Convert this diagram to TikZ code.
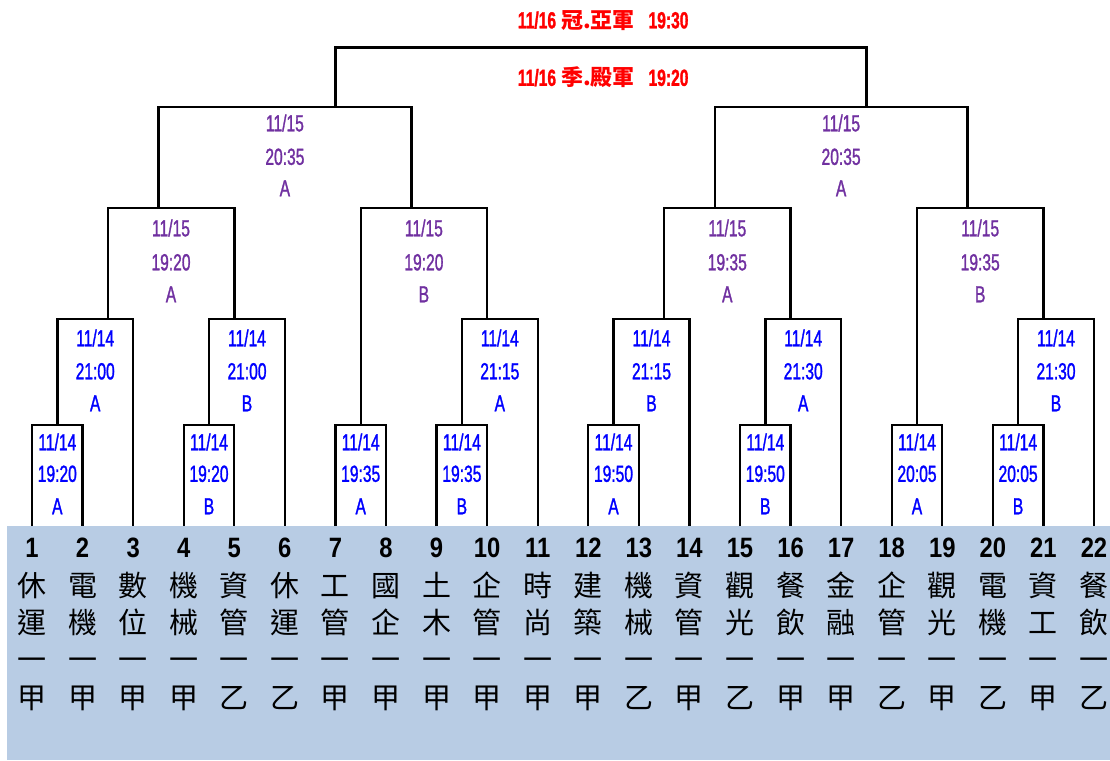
\documentclass[tikz,border=0pt]{standalone}
\usepackage{fontspec}
\setmainfont{Liberation Sans}
\newfontfamily\nar[FakeStretch=0.67,FakeBold=1.2]{Liberation Sans}
\newfontfamily\numf[FakeStretch=0.85]{Liberation Sans}
\newfontfamily\cjk{Noto Sans CJK TC}
\definecolor{bgblue}{RGB}{184,204,228}
\definecolor{pur}{RGB}{112,48,160}
\definecolor{redt}{RGB}{255,0,0}
\begin{document}
\begin{tikzpicture}[x=1pt,y=-1pt,
  bk/.style={line width=2.4pt, line join=miter},
  lab/.style={inner sep=0pt, font=\nar\fontsize{23.3}{24}\selectfont, text height=16.7pt, text depth=0pt, anchor=center},
  redlab/.style={lab, font=\nar\bfseries\fontsize{23.3}{24}\selectfont, text=redt},
  redcj/.style={inner sep=0pt, font=\cjk\bfseries\fontsize{22}{22}\selectfont, text height=19.4pt, text depth=2.6pt, text=redt},
  num/.style={inner sep=0pt, font=\numf\bfseries\fontsize{28}{28}\selectfont, text height=20pt, text depth=0pt},
  cj/.style={inner sep=0pt, font=\cjk\fontsize{29}{30}\selectfont, text height=25.5pt, text depth=3.5pt}]
\useasboundingbox (0,0) rectangle (1110,760);
\fill[bgblue] (7,526) rectangle (1110,760);

% teams
\foreach \i/\a/\b/\c in {1/休/運/甲,2/電/機/甲,3/數/位/甲,4/機/械/甲,5/資/管/乙,6/休/運/乙,7/工/管/甲,8/國/企/甲,9/土/木/甲,10/企/管/甲,11/時/尚/甲,12/建/築/甲,13/機/械/乙,14/資/管/甲,15/觀/光/乙,16/餐/飲/甲,17/金/融/甲,18/企/管/乙,19/觀/光/甲,20/電/機/乙,21/資/工/甲,22/餐/飲/乙}{
  \pgfmathsetmacro\xx{32+(\i-1)*50.57}
  \coordinate (t\i) at (\xx,526);
  \node[num] (num\i) at (\xx,547) {\i};
  \node[cj] (ca\i) at (\xx,585) {\a};
  \node[cj] (cb\i) at (\xx,622) {\b};
  \node[cj] (cd\i) at (\xx,659) {一};
  \node[cj] (cc\i) at (\xx,697) {\c};
}

% join coordinates
\coordinate (m1) at (57.3,425);  \coordinate (m2) at (209,425);
\coordinate (m3) at (360.7,425); \coordinate (m4) at (461.9,425);
\coordinate (m5) at (613.5,425); \coordinate (m6) at (765.3,425);
\coordinate (m7) at (917,425);   \coordinate (m8) at (1018.1,425);
\coordinate (n1) at (107.8,319); \coordinate (n2) at (234.3,319);
\coordinate (n3) at (487.1,319); \coordinate (n4) at (664.1,319);
\coordinate (n5) at (790.6,319); \coordinate (n6) at (1043.4,319);
\coordinate (p1) at (158.4,207.7); \coordinate (p2) at (411.3,207.7);
\coordinate (p3) at (714.7,207.7); \coordinate (p4) at (967.5,207.7);
\coordinate (q1) at (335.4,106.7); \coordinate (q2) at (866.4,106.7);
\coordinate (f) at (600.9,47.7);

% bracket lines
\draw[bk] (t1) |- (m1) -| (t2);
\draw[bk] (t4) |- (m2) -| (t5);
\draw[bk] (t7) |- (m3) -| (t8);
\draw[bk] (t9) |- (m4) -| (t10);
\draw[bk] (t12) |- (m5) -| (t13);
\draw[bk] (t15) |- (m6) -| (t16);
\draw[bk] (t18) |- (m7) -| (t19);
\draw[bk] (t20) |- (m8) -| (t21);
\draw[bk] (m1) |- (n1) -| (t3);
\draw[bk] (m2) |- (n2) -| (t6);
\draw[bk] (m4) |- (n3) -| (t11);
\draw[bk] (m5) |- (n4) -| (t14);
\draw[bk] (m6) |- (n5) -| (t17);
\draw[bk] (m8) |- (n6) -| (t22);
\draw[bk] (n1) |- (p1) -| (n2);
\draw[bk] (m3) |- (p2) -| (n3);
\draw[bk] (n4) |- (p3) -| (n5);
\draw[bk] (m7) |- (p4) -| (n6);
\draw[bk] (p1) |- (q1) -| (p2);
\draw[bk] (p3) |- (q2) -| (p4);
\draw[bk] (q1) |- (f) -| (q2);

% round 1 labels
\foreach \nm/\xx/\tm/\g in {m1/57.3/19:20/A,m2/209/19:20/B,m3/360.7/19:35/A,m4/461.9/19:35/B,m5/613.5/19:50/A,m6/765.3/19:50/B,m7/917/20:05/A,m8/1018.1/20:05/B}{
  \node[lab,text=blue] (\nm-d) at (\xx,442) {11/14};
  \node[lab,text=blue] (\nm-t) at (\xx,473.5) {\tm};
  \node[lab,text=blue] (\nm-g) at (\xx,506) {\g};
}
% round 2 labels
\foreach \nm/\xx/\tm/\g in {n1/95.2/21:00/A,n2/247/21:00/B,n3/499.8/21:15/A,n4/651.5/21:15/B,n5/803.2/21:30/A,n6/1056/21:30/B}{
  \node[lab,text=blue] (\nm-d) at (\xx,338) {11/14};
  \node[lab,text=blue] (\nm-t) at (\xx,371) {\tm};
  \node[lab,text=blue] (\nm-g) at (\xx,403) {\g};
}
% round 3 labels
\foreach \nm/\xx/\tm/\g in {p1/171/19:20/A,p2/423.9/19:20/B,p3/727.3/19:35/A,p4/980.2/19:35/B}{
  \node[lab,text=pur] (\nm-d) at (\xx,228) {11/15};
  \node[lab,text=pur] (\nm-t) at (\xx,262) {\tm};
  \node[lab,text=pur] (\nm-g) at (\xx,294) {\g};
}
% round 4 labels
\foreach \nm/\xx in {q1/284.9,q2/841.1}{
  \node[lab,text=pur] (\nm-d) at (\xx,123) {11/15};
  \node[lab,text=pur] (\nm-t) at (\xx,156.5) {20:35};
  \node[lab,text=pur] (\nm-g) at (\xx,188) {A};
}
% finals
\node[redlab] (fa-d) at (537,20) {11/16};
\node[redcj] (fa-c) at (598,20) {冠.亞軍};
\node[redlab] (fa-t) at (668.5,20) {19:30};
\node[redlab] (fb-d) at (537,77.5) {11/16};
\node[redcj] (fb-c) at (598,77.5) {季.殿軍};
\node[redlab] (fb-t) at (668.5,77.5) {19:20};
\end{tikzpicture}
\end{document}
